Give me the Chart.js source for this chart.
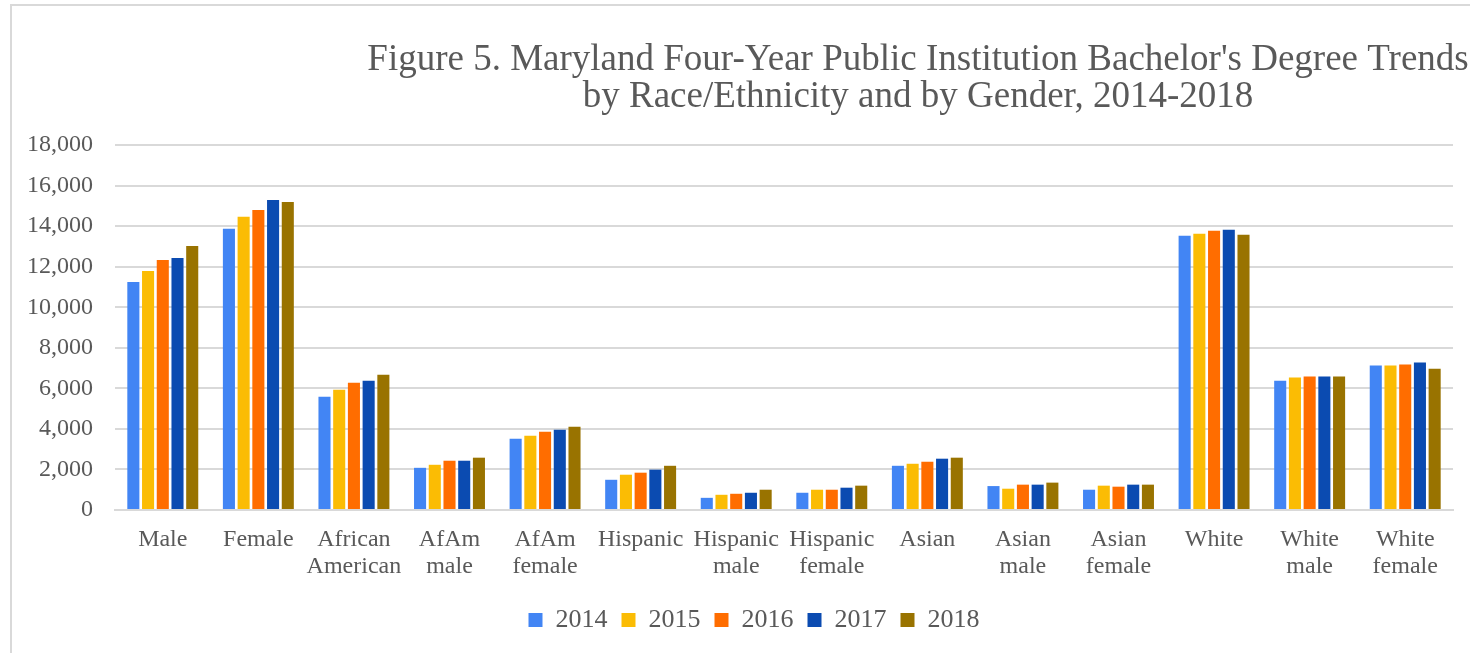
<!DOCTYPE html>
<html>
<head>
<meta charset="utf-8">
<script src="https://cdn.jsdelivr.net/npm/chart.js@4"></script>
<style>
  html, body { margin: 0; padding: 0; overflow: hidden; background: #fff; }
  #wrap { position: relative; width: 1470px; height: 653px; overflow: hidden; }
  #frame { position: absolute; left: 10px; top: 4px; width: 1500px; height: 700px;
           border-left: 2px solid #d9d9d9; border-top: 2px solid #d9d9d9; }
  #chart { position: absolute; left: 0; top: 0; }
</style>
</head>
<body>
<div id="wrap">
<div id="frame"></div>
<canvas id="chart" width="1836" height="653"></canvas>
</div>
<script>
// Категории и значения по годам
var categories = [
    'Male', 'Female', ['African', 'American'], ['AfAm', 'male'], ['AfAm', 'female'],
    'Hispanic', ['Hispanic', 'male'], ['Hispanic', 'female'], 'Asian', ['Asian', 'male'],
    ['Asian', 'female'], 'White', ['White', 'male'], ['White', 'female']
];
var years = ['2014', '2015', '2016', '2017', '2018'];
var y2014 = [11250, 13870, 5590, 2080, 3510, 1490, 600, 850, 2180, 1180, 1000, 13520, 6380, 7120];
var y2015 = [11790, 14460, 5930, 2230, 3660, 1740, 750, 1000, 2280, 1050, 1200, 13620, 6530, 7120];
var y2016 = [12330, 14800, 6280, 2430, 3860, 1840, 800, 1000, 2380, 1250, 1150, 13770, 6580, 7170];
var y2017 = [12430, 15290, 6380, 2430, 3960, 1990, 850, 1100, 2530, 1250, 1250, 13820, 6580, 7270];
var y2018 = [13020, 15190, 6670, 2580, 4100, 2180, 1000, 1200, 2580, 1350, 1250, 13570, 6580, 6970];
var yTicks = [0, 2000, 4000, 6000, 8000, 10000, 12000, 14000, 16000, 18000];

var colors = ['#4285f4', '#fbbc04', '#ff6d00', '#0b4bb1', '#997300'];
var series = [y2014, y2015, y2016, y2017, y2018];

var textColor = '#595959';
var serif = "'Liberation Serif', 'Times New Roman', serif";

// Сдвиг легенды (в оригинале она не по центру области графика)
var legendShift = {
    id: 'legendShift',
    afterLayout: function (chart) {
        chart.legend.left -= 30;
        chart.legend.right -= 30;
        chart.legend.top += 5;
        chart.legend.bottom += 5;
    }
};

var ctx = document.getElementById('chart').getContext('2d');
var chart = new Chart(ctx, {
    type: 'bar',
    data: {
        labels: categories,
        datasets: years.map(function (y, i) {
            return {
                label: y,
                data: series[i],
                backgroundColor: colors[i],
                barPercentage: 0.82,
                categoryPercentage: 0.77
            };
        })
    },
    plugins: [legendShift],
    options: {
        responsive: false,
        animation: false,
        layout: { padding: { left: 0, right: 0, top: 0, bottom: 15 } },
        plugins: {
            title: {
                display: true,
                text: ["Figure 5. Maryland Four-Year Public Institution Bachelor's Degree Trends",
                       'by Race/Ethnicity and by Gender, 2014-2018'],
                color: textColor,
                font: { family: serif, size: 37, weight: 'normal', lineHeight: 1.0 },
                padding: { top: 42, bottom: 29 }
            },
            legend: {
                position: 'bottom',
                fullSize: false,
                labels: {
                    color: textColor,
                    font: { family: serif, size: 26 },
                    boxWidth: 14,
                    boxHeight: 14,
                    padding: 14
                }
            },
            tooltip: { enabled: false }
        },
        scales: {
            x: {
                grid: { display: false },
                border: { color: '#d9d9d9', width: 2 },
                ticks: {
                    color: textColor,
                    font: { family: serif, size: 24, lineHeight: 1.125 },
                    padding: 8,
                    maxRotation: 0,
                    autoSkip: false
                }
            },
            y: {
                min: 0,
                max: yTicks[yTicks.length - 1],
                afterBuildTicks: function (scale) {
                    scale.ticks = yTicks.map(function (v) { return { value: v }; });
                },
                afterFit: function (scale) { scale.width = 115; },
                grid: { color: '#d9d9d9', lineWidth: 2, drawTicks: false },
                border: { display: false },
                ticks: {
                    color: textColor,
                    font: { family: serif, size: 24 },
                    padding: 22,
                    callback: function (v) { return v.toLocaleString('en-US'); }
                }
            },
            // пустая ось справа: оставляет место, где в оригинале обрезан рисунок
            yRight: {
                position: 'right',
                grid: { display: false },
                border: { display: false },
                ticks: { display: false },
                afterFit: function (scale) { scale.width = 383; }
            }
        }
    }
});
</script>
</body>
</html>
